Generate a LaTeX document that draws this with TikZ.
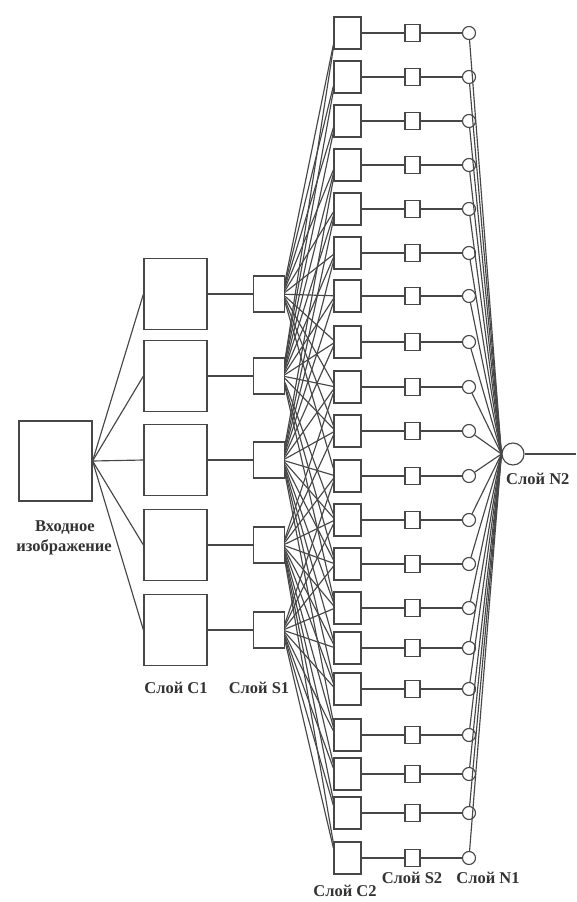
\documentclass[tikz,border=0pt]{standalone}
\usepackage{fontspec}
\setmainfont{Liberation Serif}
\begin{document}
\begin{tikzpicture}[x=1pt,y=-1pt,
  ln/.style={draw=black!72, line width=1.15pt},
  bx/.style={ln, rectangle, inner sep=0pt, fill=white},
  inbox/.style={bx, minimum width=73pt, minimum height=80pt},
  cAbox/.style={bx, minimum width=63pt, minimum height=71pt},
  sAbox/.style={bx, minimum width=31pt, minimum height=36pt},
  cBbox/.style={bx, minimum width=27pt, minimum height=32pt},
  sBbox/.style={bx, minimum width=15pt, minimum height=17pt},
  nAcirc/.style={ln, circle, inner sep=0pt, fill=white, minimum size=13pt},
  nBcirc/.style={ln, circle, inner sep=0pt, fill=white, minimum size=22pt},
  lbl/.style={font=\fontsize{16.5}{18}\selectfont\bfseries, text=black!80, inner sep=0pt}]
\useasboundingbox (0,0) rectangle (576,902);
\fill[white] (0,0) rectangle (576,902);
\def\ys{{33,77,121,165,209,253,296,342,387,431,476,520,564,608,648,689,735,774,813,858}}
\def\ss{{294,376,460,545,630}}
% input
\node[inbox] (in) at (55.5,461) {};
% C1 and S1
\foreach \k/\y in {1/294,2/376,3/460,4/545,5/630} {
  \node[cAbox] (a\k) at (175.5,\y) {};
  \node[sAbox] (s\k) at (269,\y) {};
  \draw[ln] (in.east) -- (a\k.west);
  \draw[ln] (a\k) -- (s\k);
}
% C2, S2, N1
\foreach \j in {1,...,20} {
  \pgfmathsetmacro\yy{\ys[\j-1]}
  \node[cBbox] (c\j) at (347.5,\yy) {};
  \node[sBbox] (p\j) at (412.5,\yy) {};
  \node[nAcirc] (n\j) at (469,\yy) {};
  \draw[ln] (c\j) -- (p\j);
  \draw[ln] (p\j) -- (n\j);
}
% N2
\node[nBcirc] (out) at (513,454) {};
\coordinate (outend) at (576,454);
\draw[ln] (out) -- (outend);
\foreach \j in {1,...,20} { \draw[ln] (n\j) -- (out.west); }
% S1 -> C2
\foreach \j/\l in {1/{1,2},2/{1,2},3/{1,2},4/{1,2,3},5/{1,2,3},6/{1,2,3},7/{1,2,3},8/{1,2,3},
  9/{1,2,3,4},10/{1,2,3,4},11/{1,3,4,5},12/{2,3,4,5},13/{2,3,4,5},14/{2,3,4,5},15/{3,4,5},16/{3,4,5},
  17/{3,4,5},18/{4,5},19/{4,5},20/{4,5}} {
  \foreach \i in \l {
    \pgfmathtruncatemacro\aa{mod(360+max(-46,min(46,(\ss[\i-1]-\ys[\j-1])*0.15)),360)}
    \pgfmathtruncatemacro\bb{mod(180+max(-46,min(46,(\ss[\i-1]-\ys[\j-1])*0.15)),360)}
    \draw[ln] (s\i.\aa) -- (c\j.\bb);
  }
}
% labels
\node[lbl] (lin1) at (65,528) {Входное};
\node[lbl] (lin2) at (64,547) {изображение};
\node[lbl] (lc1) at (176,688) {Слой C1};
\node[lbl] (ls1) at (259,688) {Слой S1};
\node[lbl] (lc2) at (345,891) {Слой C2};
\node[lbl] (ls2) at (412,878) {Слой S2};
\node[lbl] (ln1) at (488,878) {Слой N1};
\node[lbl, anchor=west] (ln2) at (506,479) {Слой N2};
\end{tikzpicture}
\end{document}
